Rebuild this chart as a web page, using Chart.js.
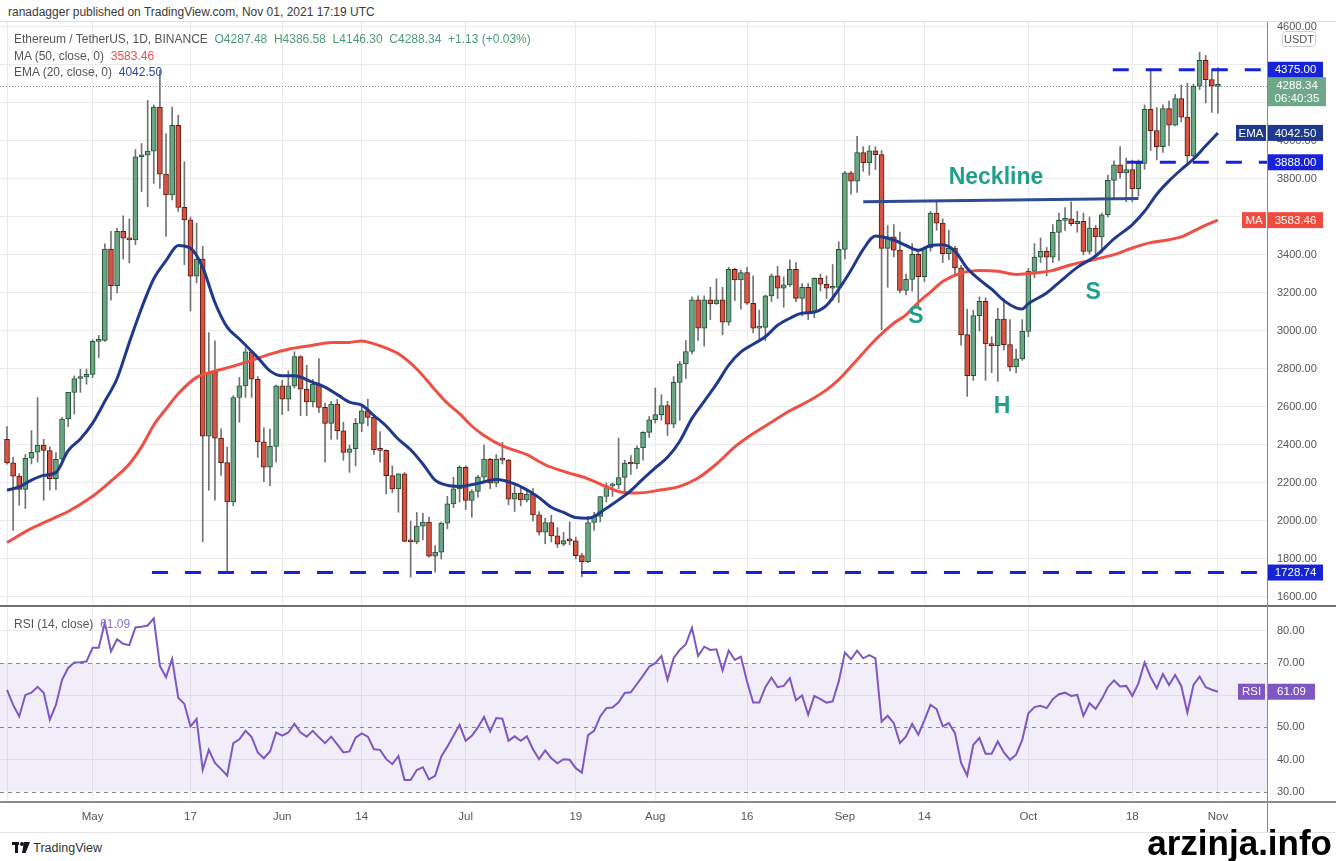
<!DOCTYPE html>
<html lang="en">
<head>
<meta charset="UTF-8">
<title>Ethereum / TetherUS, 1D</title>
<script src="https://cdn.jsdelivr.net/npm/chart.js"></script>
<style>
  html, body { margin: 0; padding: 0; background: #fff; }
  body { width: 1336px; height: 861px; position: relative; overflow: hidden; font-family: 'Liberation Sans', Arial, sans-serif; }
  canvas { position: absolute; left: 0; }
  #priceChart { top: 22px; }
  #rsiChart { top: 606px; }
  .txt { position: absolute; white-space: nowrap; font-size: 12px; line-height: 14px; color: #555; z-index: 5; }
  .line { position: absolute; z-index: 4; }
  .up { color: #4f9a76; }
  .ma { color: #e8504a; }
  .ema { color: #2a4a9a; }
  .rsi { color: #8a6fcf; }
</style>
</head>
<body>
  <div class="txt" style="left:8px;top:5px;color:#3a3a3a">ranadagger published on TradingView.com, Nov 01, 2021 17:19 UTC</div>
  <div class="line" style="left:0;top:21px;width:1336px;height:1px;background:#dcdcdc"></div>

  <div class="txt" style="left:14px;top:32px">Ethereum / TetherUS, 1D, BINANCE&nbsp; <span class="up">O4287.48&nbsp; H4386.58&nbsp; L4146.30&nbsp; C4288.34&nbsp; +1.13 (+0.03%)</span></div>
  <div class="txt" style="left:14px;top:49px">MA (50, close, 0)&nbsp; <span class="ma">3583.46</span></div>
  <div class="txt" style="left:14px;top:65px">EMA (20, close, 0)&nbsp; <span class="ema">4042.50</span></div>

  <canvas id="priceChart" width="1336" height="584"></canvas>
  <canvas id="rsiChart" width="1336" height="228"></canvas>

  <div class="line" style="left:0;top:605px;width:1336px;height:2px;background:#6f6f6f"></div>
  <div class="line" style="left:0;top:801px;width:1336px;height:2px;background:#8c8c8c"></div>
  <div class="line" style="left:1267px;top:22px;width:1px;height:810px;background:#8a8a8a"></div>
  <div class="line" style="left:0;top:832px;width:1336px;height:1px;background:#e2e2e2"></div>

  <div class="txt" style="left:14px;top:617px">RSI (14, close)&nbsp; <span class="rsi">61.09</span></div>

  <div class="txt" style="left:12px;top:841px;color:#333;font-size:12.5px">
    <svg width="18" height="11" viewBox="0 0 18 11" style="vertical-align:-1px"><rect x="0" y="0" width="7" height="3" fill="#131722"/><rect x="3" y="0" width="3" height="11" fill="#131722"/><circle cx="10" cy="2" r="2" fill="#131722"/><path d="M12 0 L18 0 L13.5 11 L10 11 Z" fill="#131722"/></svg>
    TradingView
  </div>
  <div class="txt" style="right:4px;top:823px;font-size:35px;line-height:40px;font-weight:bold;color:#000">arzinja.info</div>

<script>
// ETH/USDT daily candles, Apr 17 (day 0) .. Nov 01 2021 (day 198)
const opens = [
  2430, 2306, 2236, 2166, 2330, 2362, 2400, 2371, 2223, 2325,
  2537, 2677, 2750, 2758, 2772, 2945, 2950, 3431, 3239, 3524,
  3489, 3480, 3917, 3925, 3947, 4179, 3826, 3716, 4083, 3651,
  3585, 3288, 3379, 2446, 2782, 2436, 2307, 2101, 2650, 2711,
  2891, 2746, 2417, 2283, 2393, 2711, 2641, 2711, 2865, 2694,
  2627, 2720, 2598, 2514, 2615, 2475, 2361, 2380, 2514, 2580,
  2545, 2375, 2372, 2239, 2169, 2248, 1892, 1890, 1973, 1994,
  1815, 1836, 1989, 2090, 2169, 2283, 2108, 2155, 2231, 2326,
  2199, 2326, 2320, 2115, 2147, 2111, 2141, 2032, 1941, 1992,
  1922, 1878, 1897, 1895, 1818, 1786, 1992, 2024, 2129, 2185,
  2190, 2229, 2305, 2300, 2384, 2466, 2533, 2560, 2607, 2510,
  2730, 2827, 2892, 3164, 3015, 3164, 3143, 3164, 3046, 3325,
  3269, 3307, 3146, 3015, 3019, 3185, 3290, 3225, 3243, 3325,
  3172, 3230, 3097, 3277, 3246, 3225, 3230, 3430, 3832, 3788,
  3939, 3886, 3948, 3928, 3435, 3496, 3426, 3213, 3272, 3403,
  3286, 3437, 3621, 3568, 3407, 3437, 3332, 2981, 2765, 3081,
  3156, 2932, 2923, 3063, 2928, 2811, 2853, 2998, 3314, 3389,
  3419, 3389, 3519, 3582, 3591, 3565, 3577, 3419, 3542, 3495,
  3612, 3793, 3875, 3832, 3849, 3749, 3882, 4167, 4055, 3970,
  4170, 4083, 4223, 4126, 3921, 4289, 4425, 4323, 4287.48
];
const highs = [
  2497, 2336, 2250, 2350, 2476, 2650, 2430, 2390, 2360, 2545,
  2677, 2764, 2799, 2799, 2953, 2977, 3459, 3524, 3540, 3606,
  3590, 3955, 3987, 4214, 4190, 4372, 4039, 4179, 4135, 3891,
  3600, 3568, 3445, 2991, 2948, 2485, 2389, 2660, 2756, 2911,
  2895, 2760, 2490, 2484, 2715, 2740, 2790, 2891, 2870, 2820,
  2745, 2855, 2620, 2630, 2640, 2520, 2400, 2540, 2600, 2640,
  2560, 2470, 2375, 2290, 2250, 2255, 2000, 2045, 2040, 2020,
  1870, 1995, 2130, 2230, 2290, 2290, 2165, 2240, 2400, 2330,
  2350, 2414, 2325, 2190, 2180, 2160, 2170, 2050, 2015, 2030,
  1965, 1940, 1995, 1915, 1830, 2025, 2045, 2130, 2200, 2200,
  2437, 2320, 2345, 2395, 2470, 2550, 2700, 2665, 2630, 2760,
  2840, 2950, 3180, 3185, 3185, 3230, 3275, 3230, 3335, 3330,
  3320, 3335, 3290, 3110, 3190, 3300, 3340, 3285, 3375, 3360,
  3250, 3250, 3280, 3300, 3290, 3350, 3470, 3840, 3840, 4025,
  3970, 3975, 3970, 3950, 3555, 3560, 3520, 3300, 3460, 3430,
  3440, 3630, 3680, 3590, 3530, 3445, 3345, 3115, 3110, 3180,
  3175, 2970, 3120, 3170, 3060, 2905, 3060, 3330, 3460, 3490,
  3440, 3560, 3620, 3650, 3680, 3630, 3620, 3600, 3555, 3620,
  3820, 3895, 3970, 3910, 3900, 3900, 4190, 4377, 4175, 4190,
  4210, 4245, 4295, 4305, 4300, 4467, 4450, 4380, 4386.58
];
const lows = [
  2299, 1950, 2083, 2066, 2300, 2310, 2109, 2162, 2165, 2303,
  2496, 2563, 2677, 2720, 2755, 2860, 2945, 3162, 3201, 3379,
  3358, 3454, 3734, 3655, 3777, 3751, 3498, 3690, 3629, 3349,
  3105, 3253, 1891, 2162, 2109, 2240, 1737, 2080, 2520, 2650,
  2650, 2335, 2207, 2186, 2310, 2560, 2580, 2700, 2554, 2554,
  2600, 2570, 2309, 2430, 2430, 2320, 2256, 2290, 2470, 2500,
  2350, 2310, 2143, 2150, 2046, 1890, 1705, 1880, 1900, 1810,
  1731, 1800, 1960, 2070, 2100, 2060, 2020, 2125, 2200, 2170,
  2180, 2300, 2085, 2050, 2080, 2100, 2000, 1925, 1880, 1890,
  1860, 1870, 1875, 1800, 1707, 1780, 1950, 1995, 2100, 2130,
  2170, 2150, 2245, 2275, 2320, 2440, 2515, 2530, 2450, 2490,
  2530, 2750, 2880, 2950, 2920, 3060, 3140, 2980, 3030, 3160,
  3115, 3140, 2990, 2954, 2950, 3155, 3170, 3125, 3235, 3155,
  3080, 3060, 3070, 3210, 3170, 3160, 3150, 3380, 3720, 3730,
  3840, 3820, 3850, 3006, 3230, 3390, 3200, 3190, 3210, 3130,
  3260, 3420, 3530, 3360, 3375, 3295, 2925, 2656, 2740, 3000,
  2740, 2780, 2735, 2900, 2790, 2780, 2845, 2970, 3280, 3360,
  3290, 3360, 3370, 3530, 3555, 3520, 3400, 3405, 3390, 3410,
  3600, 3700, 3805, 3680, 3680, 3710, 3850, 3950, 3900, 3940,
  3975, 4080, 4100, 3880, 3900, 4270, 4200, 4150, 4146.30
];
const closes = [
  2306, 2236, 2166, 2330, 2362, 2400, 2371, 2223, 2325, 2537,
  2677, 2750, 2758, 2772, 2945, 2950, 3431, 3239, 3524, 3489,
  3480, 3917, 3925, 3947, 4179, 3826, 3716, 4083, 3651, 3585,
  3288, 3379, 2446, 2782, 2436, 2307, 2101, 2650, 2711, 2891,
  2746, 2417, 2283, 2393, 2711, 2641, 2711, 2865, 2694, 2627,
  2720, 2598, 2514, 2615, 2475, 2361, 2380, 2514, 2580, 2545,
  2375, 2372, 2239, 2169, 2248, 1892, 1890, 1973, 1994, 1815,
  1836, 1989, 2090, 2169, 2283, 2108, 2155, 2231, 2326, 2199,
  2326, 2320, 2115, 2147, 2111, 2141, 2032, 1941, 1992, 1922,
  1878, 1897, 1895, 1818, 1786, 1992, 2024, 2129, 2185, 2190,
  2229, 2305, 2300, 2384, 2466, 2533, 2560, 2607, 2510, 2730,
  2827, 2892, 3164, 3015, 3164, 3143, 3164, 3046, 3325, 3269,
  3307, 3146, 3015, 3019, 3185, 3290, 3225, 3243, 3325, 3172,
  3230, 3097, 3277, 3246, 3225, 3230, 3430, 3832, 3788, 3939,
  3886, 3948, 3928, 3435, 3496, 3426, 3213, 3272, 3403, 3286,
  3437, 3621, 3568, 3407, 3437, 3332, 2981, 2765, 3081, 3156,
  2932, 2923, 3063, 2928, 2811, 2853, 2998, 3314, 3389, 3419,
  3389, 3519, 3582, 3591, 3565, 3577, 3419, 3542, 3495, 3612,
  3793, 3875, 3832, 3849, 3749, 3882, 4167, 4055, 3970, 4170,
  4083, 4223, 4126, 3921, 4289, 4425, 4323, 4288, 4288.34
];

// RSI (14, close), one value per day
const rsiValues = [
  61.7, 57, 53.4, 60.1, 60.8, 62.6, 60.8, 52.4, 57, 64.8,
  68.5, 70.2, 70.3, 70.5, 74.8, 74.8, 82.6, 73.6, 77.4, 76,
  75.6, 81.1, 81.3, 81.7, 83.9, 69.1, 65.6, 71.3, 59.2, 57.3,
  50.3, 52.6, 36.8, 43, 38.9, 37, 35, 45.1, 46.3, 48.9,
  47, 42.2, 40.4, 42.5, 48.4, 47.4, 48.4, 51.1, 48.4, 47.1,
  48.9, 46.9, 45.1, 47.1, 44.7, 42.2, 42.5, 46.8, 48.1, 47.1,
  43.2, 43, 40.1, 38.6, 41.1, 33.6, 33.6, 36.7, 37.6, 33.8,
  34.9, 40.9, 44, 47.4, 50.8, 45.8, 47.4, 50, 53.2, 48.7,
  52.9, 52.7, 45.8, 47.2, 45.8, 47.2, 43.2, 40.1, 42.8, 40.4,
  38.8, 40.1, 39.9, 37.3, 35.9, 47.6, 48.9, 53.4, 56, 56.2,
  57.8, 60.7, 60.9, 63.5, 66.1, 68.9, 70, 72.2, 64.8, 71.5,
  74.1, 75.9, 81, 72.2, 75.1, 74.1, 74.3, 67.7, 73.9, 71,
  72, 64.3, 57.7, 57.7, 62.5, 65.5, 62.5, 62.9, 65.3, 58.4,
  59.9, 53.9, 59.8, 58.8, 57.7, 58.1, 64.3, 73.3, 71.2, 73.9,
  71.5, 72.5, 71.5, 51.8, 53.6, 51.3, 45.1, 47.2, 51.1, 47.7,
  52.2, 57, 55.7, 50.3, 51.3, 48.2, 38.9, 35, 44.6, 46.7,
  41.8, 41.8, 45.6, 42.2, 39.9, 41.5, 46.1, 54.4, 56.3, 56.7,
  56, 58.8, 60.3, 60.8, 59.8, 60.1, 53.6, 57.5, 55.7, 58.8,
  62.5, 64.6, 62.7, 62.9, 59.8, 63.7, 70.2, 65.6, 62.2, 66.6,
  63.2, 66.3, 62.9, 54.6, 63.2, 65.8, 62.5, 61.7, 61.09
];

// EMA (20) and MA (50) at these days
const emaDays = [0, 2, 4, 6, 8, 10, 12, 14, 16, 18, 20, 22, 24, 26, 28, 30, 32, 34, 36, 38,
  41, 43, 45, 47, 50, 52, 54, 56, 58, 60, 62, 64, 66, 68, 70, 72, 74, 77, 80, 83,
  85, 87, 89, 91, 93, 95, 96, 98, 100, 102, 104, 106, 108, 110, 112, 114, 116, 118, 120, 122,
  124, 126, 128, 130, 132, 134, 136, 138, 140, 142, 143, 145, 147, 149, 151, 153, 155, 157, 159, 161,
  163, 165, 166, 167, 170, 172, 175, 178, 181, 184, 186, 188, 190, 192, 194, 196, 198];
const emaValues = [2162, 2180, 2215, 2240, 2255, 2370, 2432, 2515, 2630, 2750, 2940, 3120, 3275, 3370, 3450, 3435, 3335, 3150, 3020, 2958,
  2860, 2790, 2764, 2764, 2730, 2705, 2665, 2625, 2610, 2555, 2500, 2430, 2375, 2300, 2215, 2188, 2182, 2198, 2218, 2195,
  2164, 2123, 2072, 2045, 2018, 2015, 2024, 2067, 2111, 2160, 2222, 2280, 2335, 2420, 2540, 2630, 2720, 2820, 2890, 2930,
  2970, 3030, 3067, 3094, 3100, 3135, 3220, 3320, 3430, 3500, 3496, 3479, 3450, 3425, 3450, 3454, 3420, 3330, 3270, 3220,
  3160, 3122, 3116, 3144, 3200, 3255, 3335, 3395, 3485, 3560, 3630, 3720, 3790, 3850, 3905, 3975, 4042.50];
const maDays = [0, 4, 8, 10, 14, 17, 20, 22, 24, 26, 28, 31, 34, 37, 40, 43, 46, 50, 53, 56,
  58, 60, 62, 64, 67, 70, 72, 74, 76, 78, 81, 85, 88, 91, 95, 98, 100, 103, 107, 110,
  113, 116, 119, 122, 125, 128, 131, 134, 136, 139, 142, 145, 147, 149, 151, 153, 156, 159, 162, 165,
  168, 171, 174, 178, 181, 184, 187, 189, 192, 195, 198];
const maValues = [1887, 1961, 2020, 2050, 2130, 2210, 2300, 2390, 2505, 2590, 2670, 2756, 2788, 2815, 2845, 2878, 2904, 2925, 2939, 2940,
  2948, 2932, 2910, 2880, 2800, 2690, 2620, 2565, 2500, 2450, 2395, 2349, 2296, 2261, 2222, 2180, 2155, 2147, 2164, 2182,
  2226, 2300, 2390, 2460, 2520, 2580, 2630, 2690, 2744, 2849, 2954, 3041, 3085, 3150, 3205, 3260, 3305, 3318, 3314, 3298,
  3305, 3319, 3349, 3378, 3402, 3437, 3465, 3475, 3495, 3542, 3583.46];

// time axis
const tickDays = [0, 14, 30, 45, 58, 75, 93, 106, 121, 137, 150, 167, 184, 198];
const tickLabels = ['', 'May', '17', 'Jun', '14', 'Jul', '19', 'Aug', '16', 'Sep', '14', 'Oct', '18', 'Nov'];
const priceTicks = [1600, 1800, 2000, 2200, 2400, 2600, 2800, 3000, 3200, 3400, 3600, 3800, 4000, 4200, 4400, 4600];
const rsiTicks = [30, 40, 50, 60, 70, 80];

// drawn levels and pattern notes
const levelValues = [4375.00, 3888.00, 1728.74];
const levelStartDays = [180.8, 183.1, 23.7];
const necklineDays = [140, 185];
const necklineValues = [3680, 3697];
const noteTexts = ['Neckline', 'S', 'H', 'S'];
const noteDays = [161.7, 148.6, 162.7, 177.6];
const notePrices = [3805, 3074, 2600, 3200];

const lastClose = 4288.34, lastEma = 4042.50, lastMa = 3583.46, lastRsi = 61.09;

const X_MIN = -1.145, X_MAX = 206.02;
const GRID = '#ebebeb';
const UP = '#6ba583', UP_BORDER = '#225437', DOWN = '#d75442', DOWN_BORDER = '#5b1a13';
const LEVEL_BLUE = '#1723d6';

Chart.defaults.font.family = "'Liberation Sans', Arial, sans-serif";

const isUp = opens.map((o, i) => closes[i] >= o);
const wickData = opens.map((o, i) => ({ x: i, y: [lows[i], highs[i]] }));
const bodyData = opens.map((o, i) => ({ x: i, y: [o, closes[i]] }));

// price-axis labels hidden behind the right-hand value boxes
function coveredByBox(v) {
  const near = levelValues.concat([lastMa]).some(l => Math.abs(l - v) < 40);
  return near || (v < lastClose + 50 && v > lastClose - 110);
}

function labelBox(ctx, x, y, w, h, fill, text) {
  ctx.fillStyle = fill;
  ctx.fillRect(x, y - h / 2, w, h);
  ctx.fillStyle = '#fff';
  ctx.font = "11.5px 'Liberation Sans', Arial, sans-serif";
  ctx.textAlign = 'center';
  ctx.textBaseline = 'middle';
  ctx.fillText(text, x + w / 2, y + 0.5);
}

const pricePlugin = {
  id: 'priceOverlay',
  beforeDatasetsDraw(chart) {
    const { ctx, chartArea, scales } = chart;
    const y = scales.y.getPixelForValue(lastClose);
    ctx.save();
    ctx.strokeStyle = '#8d918f';
    ctx.lineWidth = 1;
    ctx.setLineDash([1, 2]);
    ctx.beginPath();
    ctx.moveTo(chartArea.left, Math.round(y) + 0.5);
    ctx.lineTo(chartArea.right, Math.round(y) + 0.5);
    ctx.stroke();
    ctx.restore();
  },
  afterDatasetsDraw(chart) {
    const { ctx, scales } = chart;
    ctx.save();
    ctx.fillStyle = '#1fa08b';
    ctx.font = "bold 23px 'Liberation Sans', Arial, sans-serif";
    ctx.textAlign = 'center';
    ctx.textBaseline = 'middle';
    noteTexts.forEach((t, i) => {
      ctx.fillText(t, scales.x.getPixelForValue(noteDays[i]), scales.y.getPixelForValue(notePrices[i]));
    });
    ctx.restore();
  },
  afterDraw(chart) {
    const { ctx, chartArea, scales } = chart;
    const r = chartArea.right + 1;
    const yv = v => scales.y.getPixelForValue(v);
    ctx.save();
    // currency box
    ctx.fillStyle = '#fff';
    ctx.strokeStyle = '#d0d0d0';
    ctx.lineWidth = 1;
    ctx.beginPath();
    ctx.roundRect(1282.5, 9.5, 33, 15, 3);
    ctx.fill();
    ctx.stroke();
    ctx.fillStyle = '#555';
    ctx.font = "11px 'Liberation Sans', Arial, sans-serif";
    ctx.textAlign = 'center';
    ctx.textBaseline = 'middle';
    ctx.fillText('USDT', 1299, 17.5);

    levelValues.forEach(v => labelBox(ctx, r, yv(v), 55, 16, LEVEL_BLUE, v.toFixed(2)));
    // last price with countdown
    const yc = yv(lastClose);
    ctx.fillStyle = '#6fa888';
    ctx.fillRect(r, yc - 9, 58, 29);
    ctx.fillStyle = '#fff';
    ctx.font = "11.5px 'Liberation Sans', Arial, sans-serif";
    ctx.textAlign = 'center';
    ctx.textBaseline = 'middle';
    ctx.fillText(lastClose.toFixed(2), r + 29, yc);
    ctx.fillText('06:40:35', r + 29, yc + 13);

    labelBox(ctx, r - 32, yv(lastEma), 30, 16, '#1e3a8a', 'EMA');
    labelBox(ctx, r, yv(lastEma), 55, 16, '#1e3a8a', lastEma.toFixed(2));
    labelBox(ctx, r - 26, yv(lastMa), 24, 16, '#ef4c3f', 'MA');
    labelBox(ctx, r, yv(lastMa), 55, 16, '#ef4c3f', lastMa.toFixed(2));
    ctx.restore();
  }
};

new Chart(document.getElementById('priceChart'), {
  type: 'bar',
  data: {
    datasets: [
      {
        type: 'line', label: 'levels-a',
        data: [{ x: levelStartDays[0], y: levelValues[0] }, { x: X_MAX + 1, y: levelValues[0] }],
        borderColor: LEVEL_BLUE, borderWidth: 3, borderDash: [16, 17], pointRadius: 0, order: 0
      },
      {
        type: 'line', label: 'levels-b',
        data: [{ x: levelStartDays[1], y: levelValues[1] }, { x: X_MAX + 1, y: levelValues[1] }],
        borderColor: LEVEL_BLUE, borderWidth: 3, borderDash: [16, 17], pointRadius: 0, order: 0
      },
      {
        type: 'line', label: 'levels-c',
        data: [{ x: levelStartDays[2], y: levelValues[2] }, { x: X_MAX + 1, y: levelValues[2] }],
        borderColor: LEVEL_BLUE, borderWidth: 3, borderDash: [16, 17], pointRadius: 0, order: 0
      },
      {
        type: 'line', label: 'Neckline',
        data: necklineDays.map((d, i) => ({ x: d, y: necklineValues[i] })),
        borderColor: '#2d4c91', borderWidth: 3, pointRadius: 0, order: 0
      },
      {
        type: 'line', label: 'EMA 20',
        data: emaDays.map((d, i) => ({ x: d, y: emaValues[i] })),
        borderColor: '#1f3a8c', borderWidth: 3, pointRadius: 0,
        cubicInterpolationMode: 'monotone', order: 1
      },
      {
        type: 'line', label: 'MA 50',
        data: maDays.map((d, i) => ({ x: d, y: maValues[i] })),
        borderColor: '#ef5045', borderWidth: 3, pointRadius: 0,
        cubicInterpolationMode: 'monotone', order: 2
      },
      {
        label: 'bodies', data: bodyData, grouped: false, order: 3,
        backgroundColor: isUp.map(u => u ? UP : DOWN),
        borderColor: isUp.map(u => u ? UP_BORDER : DOWN_BORDER),
        borderWidth: 1, borderSkipped: false, barThickness: 5, minBarLength: 2
      },
      {
        label: 'wicks', data: wickData, grouped: false, order: 4,
        backgroundColor: '#737375', borderWidth: 0, barThickness: 1
      }
    ]
  },
  options: {
    responsive: false,
    animation: false,
    events: [],
    layout: { padding: 0 },
    plugins: { legend: { display: false }, tooltip: { enabled: false } },
    scales: {
      x: {
        type: 'linear', min: X_MIN, max: X_MAX, offset: false,
        grid: { color: GRID, offset: false, drawTicks: false },
        border: { display: false },
        ticks: { display: false },
        afterBuildTicks: s => { s.ticks = tickDays.map(v => ({ value: v })); },
        afterFit: s => { s.height = 0; s.paddingLeft = 0; s.paddingRight = 0; }
      },
      y: {
        position: 'right', min: 1552.6, max: 4626.3, beginAtZero: false,
        grid: { color: GRID, drawTicks: false },
        border: { display: false },
        ticks: {
          padding: 10, color: '#555', font: { size: 11 },
          callback: v => coveredByBox(v) ? '' : Number(v).toFixed(2)
        },
        afterBuildTicks: s => { s.ticks = priceTicks.map(v => ({ value: v })); },
        afterFit: s => { s.width = 69; s.paddingTop = 0; s.paddingBottom = 0; }
      }
    }
  },
  plugins: [pricePlugin]
});

const rsiPlugin = {
  id: 'rsiOverlay',
  beforeDatasetsDraw(chart) {
    const { ctx, chartArea, scales } = chart;
    const y70 = scales.y.getPixelForValue(70), y30 = scales.y.getPixelForValue(30);
    ctx.save();
    ctx.fillStyle = 'rgba(126, 87, 194, 0.1)';
    ctx.fillRect(chartArea.left, y70, chartArea.right - chartArea.left, y30 - y70);
    ctx.strokeStyle = '#8a8a8a';
    ctx.lineWidth = 1;
    ctx.setLineDash([4, 4]);
    [70, 50, 30].forEach(v => {
      const y = Math.round(scales.y.getPixelForValue(v)) + 0.5;
      ctx.beginPath();
      ctx.moveTo(chartArea.left, y);
      ctx.lineTo(chartArea.right, y);
      ctx.stroke();
    });
    ctx.restore();
  },
  afterDraw(chart) {
    const { ctx, chartArea, scales } = chart;
    const y = scales.y.getPixelForValue(lastRsi);
    ctx.save();
    labelBox(ctx, chartArea.right - 29, y, 27, 16, '#7e57c2', 'RSI');
    labelBox(ctx, chartArea.right + 1, y, 47, 16, '#7e57c2', lastRsi.toFixed(2));
    ctx.restore();
  }
};

new Chart(document.getElementById('rsiChart'), {
  type: 'line',
  data: {
    datasets: [{
      label: 'RSI',
      data: rsiValues.map((v, i) => ({ x: i, y: v })),
      borderColor: '#7e57c2', borderWidth: 2, pointRadius: 0, tension: 0
    }]
  },
  options: {
    responsive: false,
    animation: false,
    events: [],
    layout: { padding: { top: 2 } },
    plugins: { legend: { display: false }, tooltip: { enabled: false } },
    scales: {
      x: {
        type: 'linear', min: X_MIN, max: X_MAX,
        grid: { color: GRID, drawTicks: false },
        border: { display: false },
        ticks: {
          padding: 8, color: '#555', font: { size: 11.5 }, maxRotation: 0, autoSkip: false,
          callback: v => tickLabels[tickDays.indexOf(v)] || ''
        },
        afterBuildTicks: s => { s.ticks = tickDays.map(v => ({ value: v })); },
        afterFit: s => { s.height = 32; s.paddingLeft = 0; s.paddingRight = 0; }
      },
      y: {
        position: 'right', min: 26.77, max: 87.15,
        grid: { color: c => [30, 50, 70].includes(c.tick && c.tick.value) ? 'rgba(0,0,0,0)' : GRID, drawTicks: false },
        border: { display: false },
        ticks: { padding: 10, color: '#555', font: { size: 11 }, callback: v => Number(v).toFixed(2) },
        afterBuildTicks: s => { s.ticks = rsiTicks.map(v => ({ value: v })); },
        afterFit: s => { s.width = 69; s.paddingTop = 0; s.paddingBottom = 0; }
      }
    }
  },
  plugins: [rsiPlugin]
});
</script>
</body>
</html>
